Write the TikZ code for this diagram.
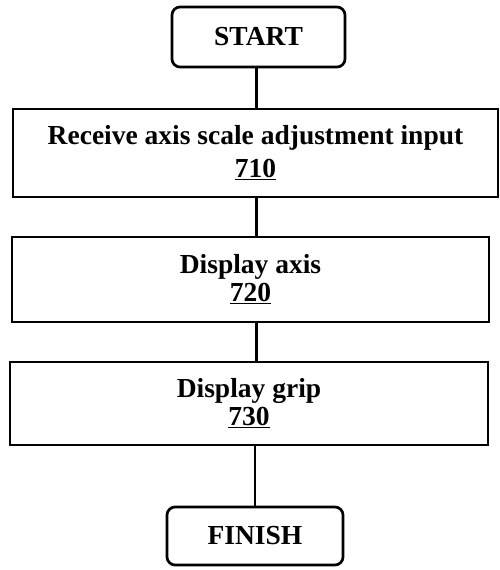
\documentclass[tikz,border=0pt]{standalone}
\usepackage{fontspec}
\setmainfont{Liberation Serif}
\usetikzlibrary{positioning}

\begin{document}
\begin{tikzpicture}[x=1pt,y=-1pt,
  stepbox/.style n args={3}{draw, line width=2.7pt, minimum width=#1pt,
    minimum height=#2pt, align=center, inner sep=0pt,
    font=\bfseries\fontsize{27.5}{#3}\selectfont},
  endbox/.style={draw, line width=2.7pt, minimum width=#1pt,
    minimum height=60pt, rounded corners=8pt, inner sep=0pt,
    font=\bfseries\fontsize{27.5}{33}\selectfont},
  link/.style={line width=2.3pt}]
\useasboundingbox (0,0) rectangle (499,570);
\def\nx{256.5}
%
\node[endbox={173}] (S) at (258.5,37) {START};
\node[stepbox={485}{88}{33}] (B1) at (255.5,153)
  {Receive axis scale adjustment input\\\underline{710}};
\node[stepbox={477}{85}{28}] (B2) at (250.5,279.5)
  {Display axis\\\underline{720}};
\node[stepbox={478}{83}{28}] (B3) at (249,403.5)
  {Display grip\\\underline{730}};
\node[endbox={176}, minimum height=58pt] (F) at (255,536) {FINISH};
%
\draw[link] (S.south -| \nx,0) -- (B1.north -| \nx,0);
\draw[link] (B1.south -| \nx,0) -- (B2.north -| \nx,0);
\draw[link] (B2.south -| \nx,0) -- (B3.north -| \nx,0);
\draw[link] (B3.south -| F.north) -- (F.north);
\end{tikzpicture}
\end{document}
